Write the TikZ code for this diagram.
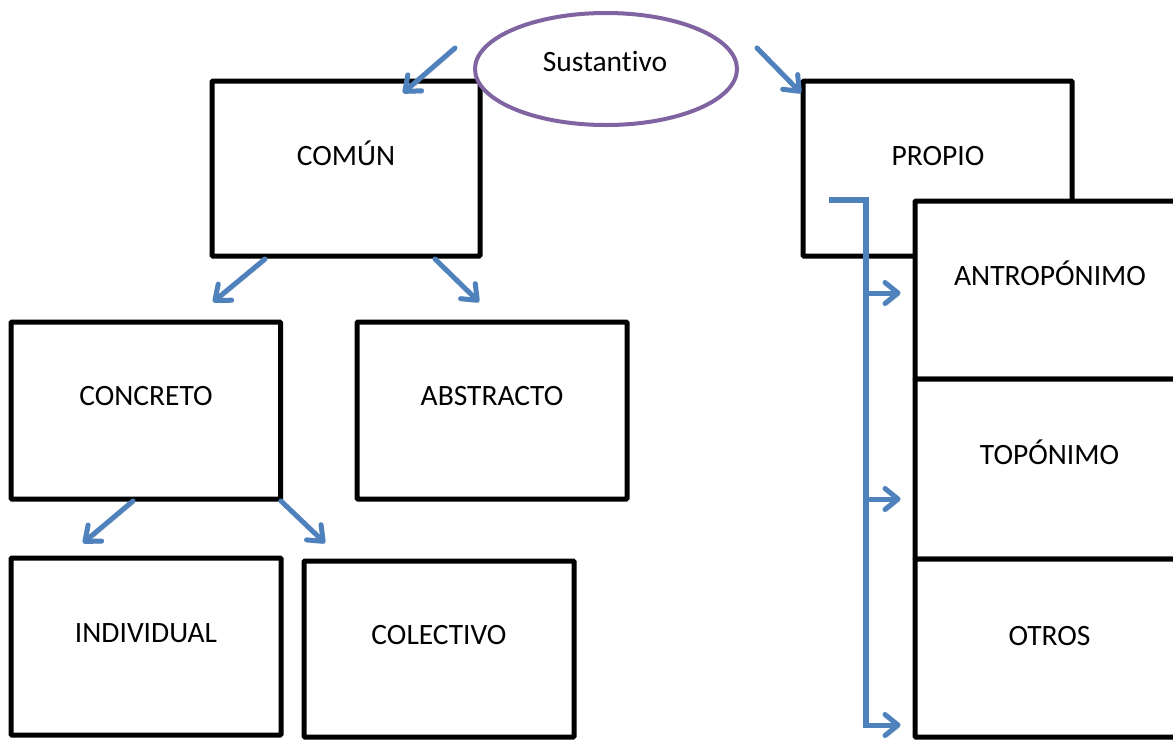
\documentclass[tikz,border=0pt]{standalone}
\usepackage{fontspec}
\setmainfont{Carlito}[Ligatures={NoCommon}]
\usetikzlibrary{arrows.meta,shapes.geometric}
\definecolor{oblue}{HTML}{4F81BD}
\definecolor{opurple}{HTML}{8064A2}
\tikzset{
  box/.style={draw=black, line width=5pt, fill=white, rectangle, rounded corners=1pt, inner sep=0pt},
  lbl/.style={anchor=base, font=\fontsize{29.5}{33}\selectfont, inner sep=0pt},
  arr/.style={draw=oblue, line width=5pt, line cap=round, line join=round,
    -{Straight Barb[length=13pt,width=21pt,line cap=round,line join=round]},
    preaction={draw=black!40, opacity=0.35, transform canvas={shift={(1.5pt,-2.5pt)}}}},
  brk/.style={draw=oblue, line width=5.5pt, line join=miter,
    preaction={draw=black!40, opacity=0.35, transform canvas={shift={(1.5pt,-2.5pt)}}}},
}
\begin{document}
\begin{tikzpicture}[x=1pt,y=-1pt]
\useasboundingbox (0,0) rectangle (1173,740);
\clip (0,0) rectangle (1173,740);
\fill[white] (0,0) rectangle (1173,740);

% boxes
\node[box, minimum width=268pt, minimum height=175pt] (comun) at (346,168.5) {};
\node[box, minimum width=269pt, minimum height=175pt] (propio) at (937.5,168.5) {};
\node[box, minimum width=269.5pt, minimum height=177pt] (concreto) at (145.75,410.5) {};
\node[box, minimum width=270pt, minimum height=177pt] (abstracto) at (492,410.5) {};
\node[box, minimum width=270pt, minimum height=177pt] (individual) at (146,646.5) {};
\node[box, minimum width=270pt, minimum height=176pt] (colectivo) at (439,649) {};
\node[box, minimum width=268pt, minimum height=178pt] (antro) at (1049,290) {};
\node[box, minimum width=268pt, minimum height=180pt] (topo) at (1049,469) {};
\node[box, minimum width=268pt, minimum height=178pt] (otros) at (1049,648) {};

% ellipse
\node[ellipse, draw=opurple, line width=4pt, fill=white, minimum width=262pt, minimum height=112pt, inner sep=0pt] (sust) at (606,69) {};

% labels
\node[lbl] (tsust) at (605,71) {Sustantivo};
\node[lbl] (tcomun) at (346,165) {COMÚN};
\node[lbl] (tpropio) at (938,165) {PROPIO};
\node[lbl] (tconcreto) at (146,405) {CONCRETO};
\node[lbl] (tabstracto) at (492,405) {ABSTRACTO};
\node[lbl] (tindividual) at (146,642) {INDIVIDUAL};
\node[lbl] (tcolectivo) at (439,644) {COLECTIVO};
\node[lbl] (tantro) at (1050,285) {ANTROPÓNIMO};
\node[lbl] (ttopo) at (1049.5,464) {TOPÓNIMO};
\node[lbl] (totros) at (1049.5,645) {OTROS};

% arrow end coordinates
\coordinate (a1s) at (455,48);  \coordinate (a1e) at (403,93);
\coordinate (a2s) at (757,48);  \coordinate (a2e) at (801,93);
\coordinate (a3s) at (265,259); \coordinate (a3e) at (213,302);
\coordinate (a4s) at (435,259); \coordinate (a4e) at (479,302);
\coordinate (a5s) at (133,501); \coordinate (a5e) at (83,543);
\coordinate (a6s) at (281,501); \coordinate (a6e) at (325,543);

\draw[arr] (a1s) -- (a1e);
\draw[arr] (a2s) -- (a2e);
\draw[arr] (a3s) -- (a3e);
\draw[arr] (a4s) -- (a4e);
\draw[arr] (a5s) -- (a5e);
\draw[arr] (a6s) -- (a6e);

% bracket
\coordinate (b0) at (829,200);
\coordinate (b1) at (866,200);
\coordinate (b2) at (866,293);
\coordinate (b3) at (866,499);
\coordinate (b4) at (866,725);
\coordinate (antroIn) at (antro.west |- b2);
\coordinate (topoIn) at (topo.west |- b3);
\coordinate (otrosIn) at (otros.west |- b4);
\draw[brk] (b0) -- (b1) -- (b4);
\draw[arr, line cap=butt] (b2) -- ([xshift=-12pt]antroIn);
\draw[arr, line cap=butt] (b3) -- ([xshift=-12pt]topoIn);
\draw[arr, line cap=butt] ([xshift=-2.75pt]b4) -- ([xshift=-12pt]otrosIn);
\end{tikzpicture}
\end{document}
